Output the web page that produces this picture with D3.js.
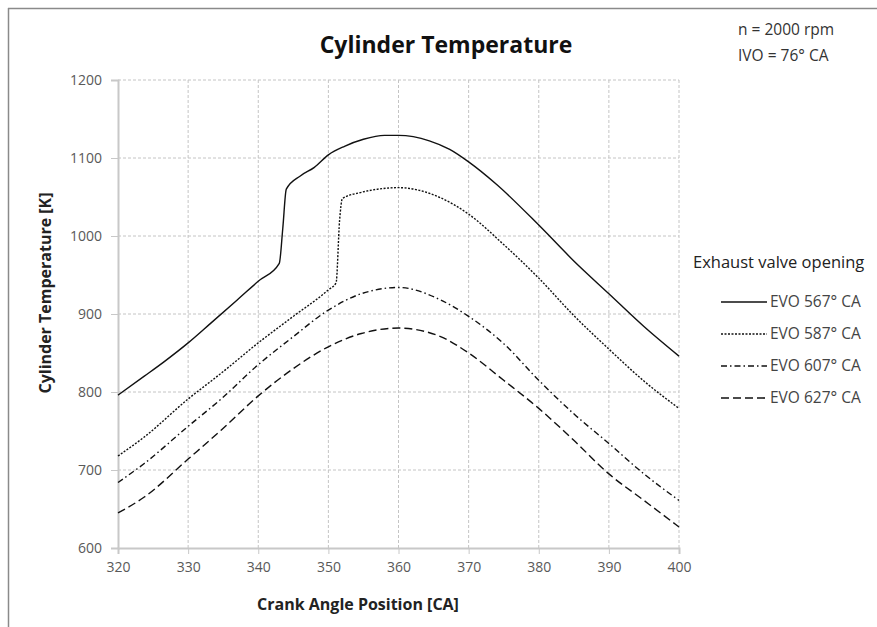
<!DOCTYPE html>
<meta charset="utf-8">
<script src="https://d3js.org/d3.v7.min.js"></script>
<style>
  body { margin: 0; background: #fff; }
  text { font-family: "Open Sans", "Noto Sans", sans-serif; }
</style>
<div id="chart"></div>
<script>

// crank angle positions and temperatures
var ca567 = [320, 323.7, 326.6, 330, 333.2, 337, 340, 343, 343.5, 344, 346, 348, 350, 352.3, 355, 358, 360, 364.4, 367.3, 370, 374, 380, 385, 390, 395, 400]
var t567 = [796, 820, 839, 863, 888, 918, 942, 965, 1010, 1060, 1077, 1088, 1104, 1115, 1124, 1129, 1129, 1122, 1111, 1095, 1066, 1014, 968, 926, 884, 846]

var ca587 = [320, 323.7, 330, 334.7, 340, 344.7, 350, 351.1, 351.6, 352, 354.7, 357, 360, 366, 370, 375, 380, 385, 390, 395, 400]
var t587 = [718, 742, 791, 824, 863, 895, 931, 940, 1020, 1048, 1056, 1060, 1062, 1049, 1028, 989, 946, 898, 855, 814, 779]

var ca607 = [320, 323.7, 330, 334.7, 340, 345, 350, 354.7, 360, 366, 370, 375, 380, 385, 390, 395, 400]
var t607 = [684, 708, 756, 791, 835, 871, 905, 926, 934, 918, 897, 862, 815, 772, 734, 695, 661]

var ca627 = [320, 323.7, 330, 334.7, 340, 345, 350, 354.7, 360, 366, 370, 375, 380, 385, 390, 395, 400]
var t627 = [645, 665, 714, 751, 795, 830, 858, 875, 882, 871, 850, 815, 779, 738, 695, 661, 627]

var seriesNames = ["EVO 567° CA", "EVO 587° CA", "EVO 607° CA", "EVO 627° CA"]
var xTicks = [320, 330, 340, 350, 360, 370, 380, 390, 400]
var yTicks = [600, 700, 800, 900, 1000, 1100, 1200]

var dashes = [null, "2,1.5", "6,3,1.5,3", "8,4"]

var series = [
  {name: seriesNames[0], x: ca567, y: t567, dash: dashes[0]},
  {name: seriesNames[1], x: ca587, y: t587, dash: dashes[1]},
  {name: seriesNames[2], x: ca607, y: t607, dash: dashes[2]},
  {name: seriesNames[3], x: ca627, y: t627, dash: dashes[3]}
]

const W = 877, H = 627
const plot = {left: 118, right: 679, top: 80, bottom: 548}

const svg = d3.select("#chart")
  .append("svg")
    .attr("width", W)
    .attr("height", H)

// frame lines (top and left edge of the cropped figure)
svg.append("line").attr("x1", 8).attr("x2", W).attr("y1", 8.5).attr("y2", 8.5)
  .attr("stroke", "#8a8a8a").attr("stroke-width", 1.5)
svg.append("line").attr("x1", 8.5).attr("x2", 8.5).attr("y1", 8).attr("y2", H)
  .attr("stroke", "#8a8a8a").attr("stroke-width", 1.5)

var xScale = d3.scaleLinear().domain([320, 400]).range([plot.left, plot.right])
var yScale = d3.scaleLinear().domain([600, 1200]).range([plot.bottom, plot.top])

// gridlines
svg.append("g").selectAll("line").data(xTicks.slice(1)).join("line")
  .attr("x1", d => xScale(d)).attr("x2", d => xScale(d))
  .attr("y1", plot.top).attr("y2", plot.bottom)
  .attr("stroke", "#c4c4c4").attr("stroke-dasharray", "3,2")
svg.append("g").selectAll("line").data(yTicks.slice(1)).join("line")
  .attr("x1", plot.left).attr("x2", plot.right)
  .attr("y1", d => yScale(d)).attr("y2", d => yScale(d))
  .attr("stroke", "#c4c4c4").attr("stroke-dasharray", "3,2")

// axes
var xAxis = d3.axisBottom(xScale).tickValues(xTicks).tickSize(6).tickPadding(8)
  .tickFormat(d3.format("d"))
var yAxis = d3.axisLeft(yScale).tickValues(yTicks).tickSize(7).tickPadding(9)
  .tickFormat(d3.format("d"))

var gx = svg.append("g").attr("transform", `translate(0,${plot.bottom})`).call(xAxis)
var gy = svg.append("g").attr("transform", `translate(${plot.left},0)`).call(yAxis)
;[gx, gy].forEach(function(g){
  g.select(".domain").attr("stroke", "#c8c8c8").attr("stroke-width", 2)
  g.selectAll(".tick line").attr("stroke", "#c8c8c8")
  g.selectAll(".tick text").attr("fill", "#595959")
    .style("font-size", "14px")
    .style("font-family", "'Open Sans', sans-serif")
})

// curves
var line = d3.line()
  .x(d => xScale(d[0]))
  .y(d => yScale(d[1]))
  .curve(d3.curveMonotoneX)

series.forEach(function(s){
  var pts = s.x.map((v, i) => [v, s.y[i]])
  svg.append("path")
    .datum(pts)
    .attr("fill", "none")
    .attr("stroke", "#111")
    .attr("stroke-width", 1.4)
    .attr("stroke-dasharray", s.dash)
    .attr("d", line)
})

// titles
svg.append("text").attr("x", 446).attr("y", 53).attr("text-anchor", "middle")
  .attr("font-size", 23).attr("font-weight", "bold").attr("fill", "#111")
  .text("Cylinder Temperature")
svg.append("text").attr("x", 358).attr("y", 610).attr("text-anchor", "middle")
  .attr("font-size", 16).attr("font-weight", "bold").attr("fill", "#222")
  .text("Crank Angle Position [CA]")
svg.append("text").attr("transform", "translate(51,293) rotate(-90)")
  .attr("text-anchor", "middle")
  .attr("font-size", 16).attr("font-weight", "bold").attr("fill", "#222")
  .text("Cylinder Temperature [K]")

// annotation
svg.append("text").attr("x", 738).attr("y", 35).attr("font-size", 15.5).attr("fill", "#333")
  .text("n = 2000 rpm")
svg.append("text").attr("x", 738).attr("y", 61).attr("font-size", 15.5).attr("fill", "#333")
  .text("IVO = 76° CA")

// legend
var legend = svg.append("g")
legend.append("text").attr("x", 693).attr("y", 268).attr("font-size", 16.5).attr("fill", "#222")
  .text("Exhaust valve opening")
var rows = legend.selectAll("g.row").data(series).join("g").attr("class", "row")
  .attr("transform", (d, i) => `translate(0,${302 + i * 32})`)
rows.append("line").attr("x1", 721).attr("x2", 767).attr("y1", 0).attr("y2", 0)
  .attr("stroke", "#111").attr("stroke-width", 1.6)
  .attr("stroke-dasharray", d => d.dash)
rows.append("text").attr("x", 770).attr("y", 5).attr("font-size", 15.5).attr("fill", "#444")
  .text(d => d.name)

</script>
